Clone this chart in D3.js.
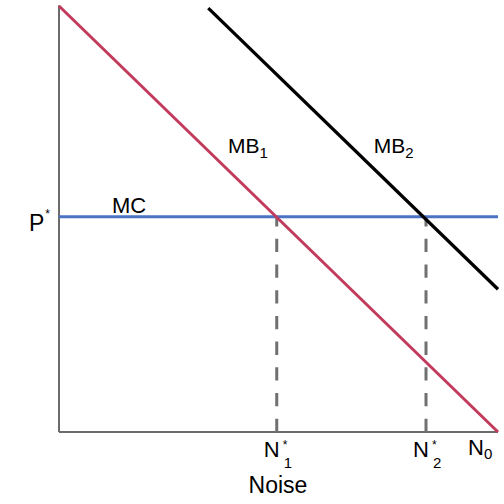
<!DOCTYPE html>
<html><head><meta charset="utf-8">
<script src="https://cdn.jsdelivr.net/npm/d3@7"></script>
<style>body{margin:0;background:#fff}svg{display:block}text{font-family:"Liberation Sans",Arial,sans-serif;fill:#000}</style>
</head><body><div id="chart"></div>
<script>
// Data (abstract units, 0..10)
const xDomain = [0, 10];
const yDomain = [0, 10];
const mb1 = [{x: 0, y: 10}, {x: 10, y: 0}];
const mb2 = [{x: 3.4, y: 9.95}, {x: 10, y: 3.35}];
const mcLevel = 5.05;
const mc = [{x: 0, y: mcLevel}, {x: 10, y: mcLevel}];
const nStars = [{x: 4.96, sub: "1"}, {x: 8.36, sub: "2"}];
const curveLabels = [{x: 3.85, y: 6.56, main: "MB", sub: "1"}, {x: 7.17, y: 6.56, main: "MB", sub: "2"}];

const W = 504, H = 504;
const svg = d3.select("#chart").append("svg").attr("width", W).attr("height", H);
const x = d3.scaleLinear().domain(xDomain).range([59, 498]);
const y = d3.scaleLinear().domain(yDomain).range([432, 6]);
const line = d3.line().x(d => x(d.x)).y(d => y(d.y));

// axes
svg.append("line").attr("x1", x(0)).attr("x2", x(0)).attr("y1", y(0)).attr("y2", y(10.02))
  .attr("stroke", "#6b6b6b").attr("stroke-width", 2);
svg.append("line").attr("x1", x(0)).attr("x2", x(10)).attr("y1", y(0)).attr("y2", y(0))
  .attr("stroke", "#6b6b6b").attr("stroke-width", 2);

// dashed droplines
svg.selectAll("line.drop").data(nStars).enter().append("line").attr("class", "drop")
  .attr("x1", d => x(d.x)).attr("x2", d => x(d.x))
  .attr("y1", y(0)).attr("y2", y(mcLevel))
  .attr("stroke", "#707070").attr("stroke-width", 3).attr("stroke-dasharray", "13.3,12.4");

// MC
svg.append("path").datum(mc).attr("d", line).attr("fill", "none")
  .attr("stroke", "#4a73c4").attr("stroke-width", 3);
// MB1
svg.append("path").datum(mb1).attr("d", line).attr("fill", "none")
  .attr("stroke", "#c23b5c").attr("stroke-width", 3);
// MB2
svg.append("path").datum(mb2).attr("d", line).attr("fill", "none")
  .attr("stroke", "#000").attr("stroke-width", 3.3);

// labels
const fs = 21;
// P*
const p = svg.append("text").attr("x", 29).attr("y", 231).attr("font-size", 23);
p.append("tspan").text("P");
p.append("tspan").attr("dx", 1).attr("dy", -13).attr("font-size", 12).text("*");
// MC
svg.append("text").attr("x", 112).attr("y", 213).attr("font-size", 22).text("MC");
// MB labels
curveLabels.forEach(l => {
  const t = svg.append("text").attr("x", x(l.x)).attr("y", y(l.y)).attr("font-size", fs);
  t.append("tspan").text(l.main);
  t.append("tspan").attr("dy", 5).attr("font-size", 15).text(l.sub);
});
// N* labels
nStars.forEach(n => {
  const cx = x(n.x);
  svg.append("text").attr("x", cx - 13).attr("y", 457).attr("font-size", 22).text("N");
  svg.append("text").attr("x", cx + 6).attr("y", 449).attr("font-size", 12).text("*");
  svg.append("text").attr("x", cx + 7).attr("y", 468).attr("font-size", 15).text(n.sub);
});
// N0
const n0 = svg.append("text").attr("x", 468).attr("y", 455).attr("font-size", 22);
n0.append("tspan").text("N");
n0.append("tspan").attr("dy", 4).attr("font-size", 15).text("0");
// axis title
svg.append("text").attr("x", 278).attr("y", 493).attr("text-anchor", "middle").attr("font-size", 23).text("Noise");
</script></body></html>
